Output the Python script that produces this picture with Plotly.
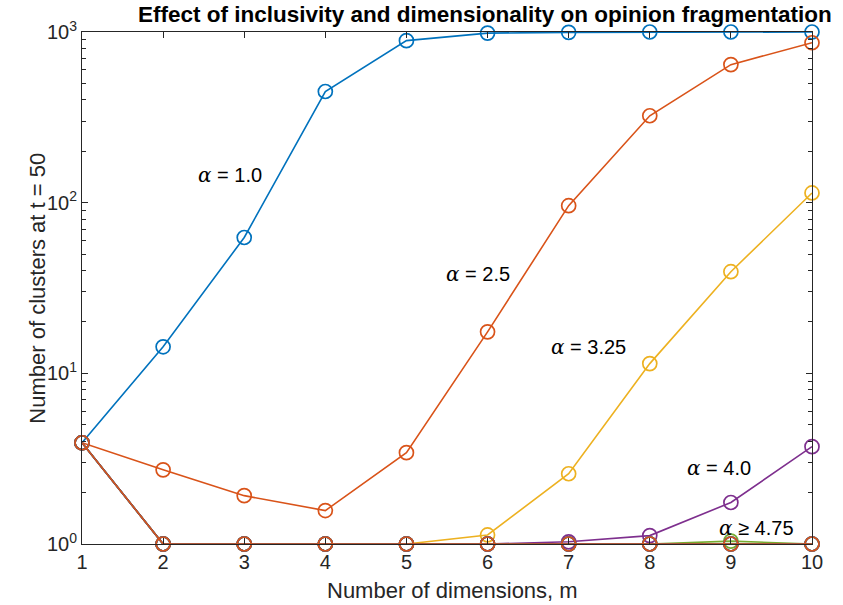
import plotly.graph_objects as go

dims = [1, 2, 3, 4, 5, 6, 7, 8, 9, 10]

alpha_labels = ["1.0", "2.5", "3.25", "4.0", "4.75", "5.5", "6.25", "7.0", "7.75"]
clusters_a10 = [3.92, 14.3, 62.5, 448, 890, 985, 995, 1000, 1000, 1000]
clusters_a25 = [3.92, 2.72, 1.92, 1.57, 3.43, 17.5, 96, 323, 644, 865]
clusters_a325 = [3.92, 1.0, 1.0, 1.0, 1.0, 1.13, 2.58, 11.4, 39.4, 114]
clusters_a40 = [3.92, 1.0, 1.0, 1.0, 1.0, 1.0, 1.03, 1.12, 1.75, 3.72]
clusters_a475 = [3.92, 1.0, 1.0, 1.0, 1.0, 1.0, 1.0, 1.0, 1.04, 1.0]
clusters_a55 = [3.92, 1.0, 1.0, 1.0, 1.0, 1.0, 1.0, 1.0, 1.0, 1.0]
clusters_a625 = [3.92, 1.0, 1.0, 1.0, 1.0, 1.0, 1.0, 1.0, 1.0, 1.0]
clusters_a70 = [3.92, 1.0, 1.0, 1.0, 1.0, 1.0, 1.0, 1.0, 1.0, 1.0]
clusters_a775 = [3.92, 1.0, 1.0, 1.0, 1.0, 1.0, 1.0, 1.0, 1.0, 1.0]

series = [clusters_a10, clusters_a25, clusters_a325, clusters_a40, clusters_a475,
          clusters_a55, clusters_a625, clusters_a70, clusters_a775]
colors = ["#0072BD", "#D95319", "#EDB120", "#7E2F8E", "#77AC30",
          "#4DBEEE", "#A2142F", "#0072BD", "#D95319"]

y_tick_vals = [1, 10, 100, 1000]
y_tick_text = ["10<sup>0</sup>", "10<sup>1</sup>", "10<sup>2</sup>", "10<sup>3</sup>"]

fig = go.Figure()
for lab, ys, c in zip(alpha_labels, series, colors):
    fig.add_trace(go.Scatter(
        x=dims, y=ys, mode="lines+markers", name="α = " + lab,
        line=dict(color=c, width=1.6),
        marker=dict(symbol="circle-open", size=14, color=c, line=dict(width=1.7)),
        cliponaxis=False, showlegend=False))

font = "Liberation Sans, Arial, Helvetica, sans-serif"
axcol = "#262626"

minor_vals = []
for dec in [1, 10, 100]:
    for k in range(2, 10):
        minor_vals.append(k * dec)

fig.update_xaxes(
    range=[1, 10], tickvals=dims, ticktext=[str(d) for d in dims],
    ticks="inside", ticklen=6, tickcolor=axcol,
    showline=True, linecolor=axcol, linewidth=1, mirror="ticks",
    showgrid=False, zeroline=False,
    tickfont=dict(family=font, size=20, color=axcol))

fig.update_yaxes(
    type="log", range=[0, 3], tickvals=y_tick_vals, ticktext=y_tick_text,
    ticks="inside", ticklen=6, tickcolor=axcol,
    minor=dict(tickvals=minor_vals, ticks="inside", ticklen=4, tickcolor=axcol, showgrid=False),
    showline=True, linecolor=axcol, linewidth=1, mirror="ticks",
    showgrid=False, zeroline=False,
    tickfont=dict(family=font, size=20, color=axcol))

alpha_sym = '<span style="font-family:\'DejaVu Serif\', \'Liberation Serif\', serif"><i>α</i></span>'
annots = [
    (alpha_sym + " = 1.0", 2.82, 2.163),
    (alpha_sym + " = 2.5", 5.88, 1.583),
    (alpha_sym + " = 3.25", 7.25, 1.156),
    (alpha_sym + " = 4.0", 8.85, 0.447),
    (alpha_sym + " ≥ 4.75", 9.32, 0.095),
]
for txt, ax_, ay_ in annots:
    fig.add_annotation(x=ax_, y=ay_, xref="x", yref="y", text=txt, showarrow=False,
                       font=dict(family=font, size=20, color="black"))

# title
fig.add_annotation(x=0.552, y=1.035, xref="paper", yref="paper", yanchor="middle",
                   text="<b>Effect of inclusivity and dimensionality on opinion fragmentation</b>",
                   showarrow=False, font=dict(family=font, size=22.5, color="black"))
# axis titles
fig.add_annotation(x=0.507, y=-0.09, xref="paper", yref="paper", yanchor="middle",
                   text="Number of dimensions, m", showarrow=False,
                   font=dict(family=font, size=22, color=axcol))
fig.add_annotation(x=-0.082, y=0.5, xref="paper", yref="paper", textangle=-90,
                   text="Number of clusters at t = 50", showarrow=False,
                   font=dict(family=font, size=22, color=axcol))

fig.update_layout(
    width=843, height=605,
    margin=dict(l=82, r=31, t=32, b=61),
    plot_bgcolor="white", paper_bgcolor="white",
)

fig.write_html("out.html", config={"displayModeBar": False},
               post_script="document.body.style.margin='0';")
